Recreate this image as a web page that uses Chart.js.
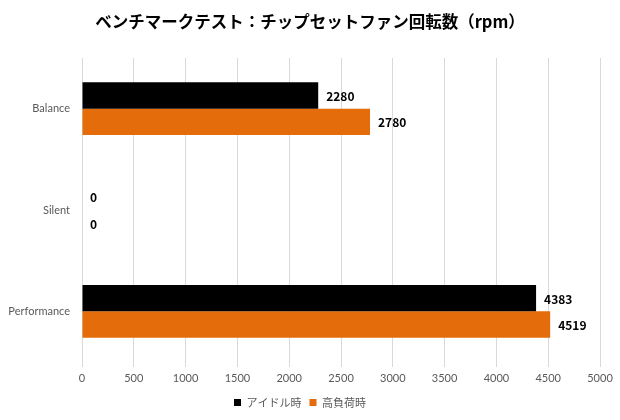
<!DOCTYPE html>
<html>
<head>
<meta charset="utf-8">
<script src="https://cdn.jsdelivr.net/npm/chart.js@4"></script>
<style>
  html, body { margin: 0; padding: 0; background: #fff; }
</style>
</head>
<body>
<canvas id="chart" width="620" height="420"></canvas>
<script>
const categories = ["Balance", "Silent", "Performance"];
const idleValues = [2280, 0, 4383];
const loadValues = [2780, 0, 4519];
const seriesNames = ["アイドル時", "高負荷時"];
const titleText = "ベンチマークテスト：チップセットファン回転数（rpm）";

const jpFont = "'Noto Sans CJK JP', 'Noto Sans', sans-serif";
const latinFont = "Lato, 'Noto Sans', sans-serif";

// value next to each bar end, and the title centred on the whole canvas
const extras = {
  id: "extras",
  afterDatasetsDraw(chart) {
    const ctx = chart.ctx;
    ctx.save();
    ctx.font = "bold 12px " + jpFont;
    ctx.fillStyle = "#000";
    ctx.textAlign = "left";
    ctx.textBaseline = "middle";
    chart.data.datasets.forEach((ds, i) => {
      chart.getDatasetMeta(i).data.forEach((bar, j) => {
        ctx.fillText(String(ds.data[j]), bar.x + 8, bar.y + 1);
      });
    });
    ctx.font = "bold 16.5px " + jpFont;
    ctx.textAlign = "center";
    ctx.fillText(titleText, chart.width / 2, 22);
    ctx.restore();
  }
};

new Chart(document.getElementById("chart"), {
  type: "bar",
  data: {
    labels: categories,
    datasets: [
      { label: seriesNames[0], data: idleValues, backgroundColor: "#000000" },
      { label: seriesNames[1], data: loadValues, backgroundColor: "#e46c0a" }
    ]
  },
  options: {
    indexAxis: "y",
    responsive: false,
    animation: false,
    devicePixelRatio: 1,
    layout: { padding: { left: 0, right: 20, top: 58, bottom: 2 } },
    datasets: { bar: { barPercentage: 1, categoryPercentage: 0.52 } },
    scales: {
      x: {
        min: 0,
        max: 5000,
        ticks: {
          stepSize: 500,
          color: "#595959",
          font: { size: 11, family: latinFont },
          padding: 5,
          maxRotation: 0,
          callback: v => String(v)
        },
        grid: { color: "#d9d9d9", tickLength: 5 },
        border: { display: false },
        afterFit(scale) { scale.height = 27; }
      },
      y: {
        ticks: { color: "#595959", font: { size: 11, family: latinFont }, padding: 12 },
        grid: { display: false, drawTicks: false },
        border: { display: false },
        afterFit(scale) { scale.width = 82; }
      }
    },
    plugins: {
      title: { display: false },
      legend: {
        position: "bottom",
        labels: {
          boxWidth: 7,
          boxHeight: 7,
          color: "#595959",
          font: { size: 11, family: jpFont },
          padding: 8
        }
      },
      tooltip: { enabled: false }
    }
  },
  plugins: [extras]
});
</script>
</body>
</html>
